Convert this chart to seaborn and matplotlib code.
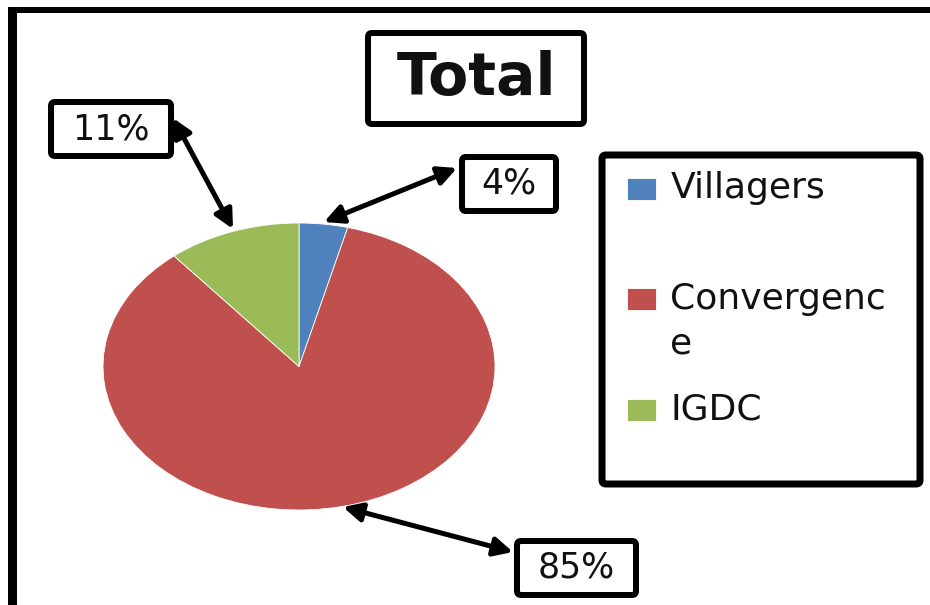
import matplotlib
matplotlib.use("Agg")
import matplotlib.pyplot as plt
import matplotlib.patches as mpatches
from matplotlib.legend_handler import HandlerPatch
import seaborn as sns

# data
categories = ["Villagers", "Convergence", "IGDC"]
shares = [4, 85, 11]
legend_labels = ["Villagers\n ", "Convergenc\ne", "IGDC\n "]  # label wraps like the original
title = "Total"

sns.set_theme(style="white")
plt.rcParams['font.family'] = ['DejaVu Sans']
colors = sns.color_palette(["#4F81BD", "#C0504D", "#9BBB59"])

W, H = 930, 605
fig = plt.figure(figsize=(W / 100, H / 100), dpi=100)
fig.patch.set_facecolor("white")

# pie stretched into an ellipse, as in the original
ax = fig.add_axes([103 / W, 95 / H, 392 / W, 287 / H])
wedges, _ = ax.pie(shares, colors=colors, startangle=90, counterclock=False,
                   wedgeprops=dict(edgecolor="white", linewidth=0.6))
ax.set_aspect("auto")
ax.set_xlim(-1, 1)
ax.set_ylim(-1, 1)
ax.axis("off")

# overlay in pixel units for boxes, arrows and border
ov = fig.add_axes([0, 0, 1, 1], zorder=5)
ov.set_xlim(0, W)
ov.set_ylim(H, 0)
ov.axis("off")

px = 0.72  # points per pixel
ov.plot([8, W], [10, 10], color="black", lw=6 * px, solid_capstyle="butt")
ov.plot([12, 12], [7, H], color="black", lw=9 * px, solid_capstyle="butt")


def box(x0, y0, x1, y1, text, size, weight="normal"):
    ov.add_patch(mpatches.FancyBboxPatch((x0, y0), x1 - x0, y1 - y0,
                                         boxstyle="round,pad=0,rounding_size=4",
                                         fc="white", ec="black", lw=6 * px))
    ov.text((x0 + x1) / 2, (y0 + y1) / 2, text, ha="center", va="center",
            fontsize=size, fontweight=weight, color="#111111")


box(368, 33, 584, 124, title, 42, "bold")

arrow = dict(arrowstyle="<|-|>", color="black", lw=5 * px, mutation_scale=28,
             shrinkA=0, shrinkB=0)
# label box and arrow ends for each slice
label_boxes = {"Villagers": (462, 157, 556, 211),
               "Convergence": (517, 541, 636, 595),
               "IGDC": (51, 102, 171, 156)}
arrow_ends = {"Villagers": ((457, 168), (324, 222)),
              "Convergence": ((513, 552), (343, 507)),
              "IGDC": ((173, 118), (233, 229))}
for cat, v in zip(categories, shares):
    (a, b) = arrow_ends[cat]
    ov.annotate("", xy=b, xytext=a, arrowprops=arrow)
    x0, y0, x1, y1 = label_boxes[cat]
    box(x0, y0, x1, y1, f"{v}%", 25)

# legend frame
ov.add_patch(mpatches.FancyBboxPatch((602, 155), 318, 329,
                                     boxstyle="round,pad=0,rounding_size=4",
                                     fc="white", ec="black", lw=7 * px))

fs = 26
lsp = 1.4
shift = 0.5 * lsp * fs


def square(legend, orig_handle, xdescent, ydescent, width, height, fontsize):
    return mpatches.Rectangle((-xdescent, -ydescent + shift - 2), width, height)


leg = ov.legend(wedges, legend_labels, loc="upper left",
                bbox_to_anchor=(627, 171), bbox_transform=ov.transData,
                frameon=False, fontsize=fs, handlelength=29 * px / fs,
                handleheight=20 * px / fs, handletextpad=0.4, borderpad=0,
                borderaxespad=0, labelspacing=0.88,
                handler_map={mpatches.Wedge: HandlerPatch(patch_func=square)})
for t in leg.get_texts():
    t.set_linespacing(lsp)
    t.set_color("#111111")
leg.set_zorder(10)

fig.savefig("out.png", dpi=100)
